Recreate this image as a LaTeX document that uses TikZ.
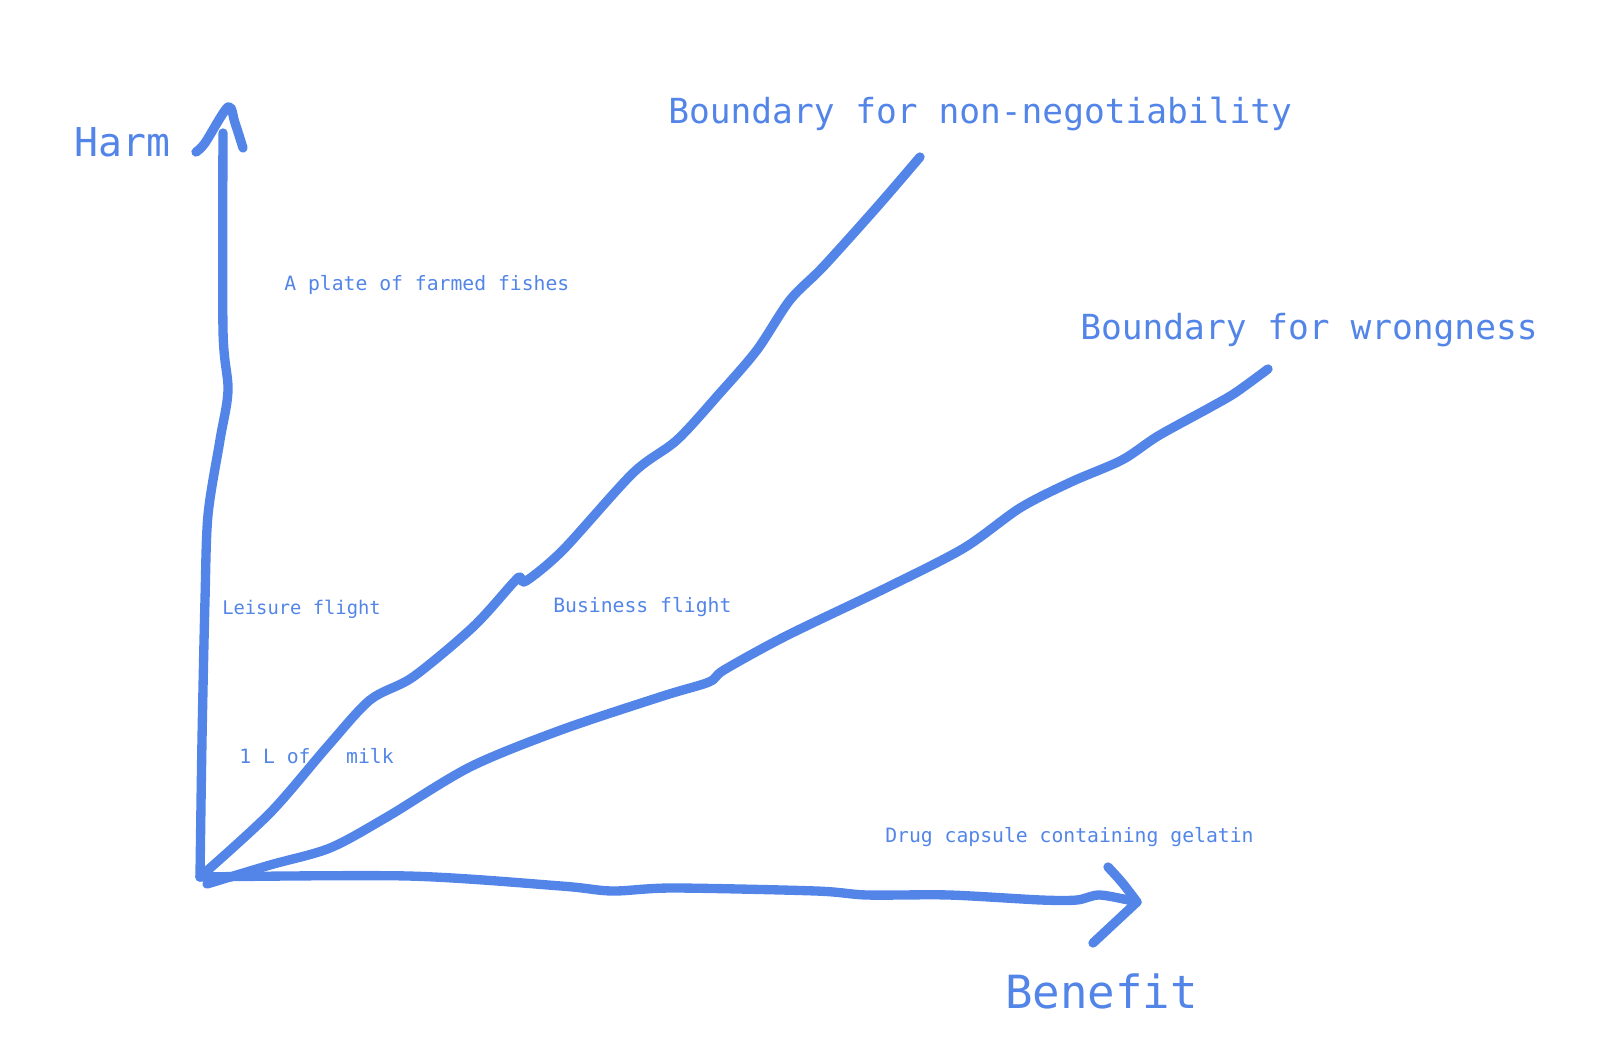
\documentclass[tikz,border=0pt]{standalone}
\usepackage{fontspec}
\setmonofont{DejaVu Sans Mono}
\definecolor{pen}{RGB}{83,133,232}

\begin{document}
\begin{tikzpicture}[x=0.75pt,y=-0.75pt,
  stroke/.style={draw=pen,line width=7pt,line cap=round,line join=round},
  item/.style={text=pen,anchor=base west,inner sep=0pt,font=\ttfamily\fontsize{14.8}{16}\selectfont},
  title/.style={text=pen,anchor=base west,inner sep=0pt,font=\ttfamily\fontsize{25.9}{28}\selectfont}]
\useasboundingbox (0,0) rectangle (1600,1045);

\coordinate (origin) at (200,877);
\coordinate (harmtip) at (228,107);
\coordinate (benefittip) at (1137,902);
\coordinate (nonnegend) at (920,157);
\coordinate (wrongend) at (1268,369);

\node[title,font=\ttfamily\fontsize{29.8}{32}\selectfont] at (74,157) (harm) {Harm};
\node[title,font=\ttfamily\fontsize{34.3}{36}\selectfont] at (1005,1008) (benefit) {Benefit};
\node[title] at (668,124) (nonneg) {Boundary for non-negotiability};
\node[title] at (1080,339) (wrong) {Boundary for wrongness};
\node[item] at (284,290) (fish) {A plate of farmed fishes};
\node[item,font=\ttfamily\fontsize{14.1}{16}\selectfont] at (222,614) (leisure) {Leisure flight};
\node[item] at (553,612) (business) {Business flight};
\node[item] at (239,763) (milk) {1 L of\ \ \ milk};
\node[item] at (885,842) (drug) {Drug capsule containing gelatin};

\draw[stroke] plot[smooth] coordinates {(origin) (202,740) (205,600) (208,515) (220,440) (228,390) (223,330) (223,133)};
\draw[stroke] plot[smooth] coordinates {(196,152) (205,143) (harmtip) (235,123) (243,148)};

\draw[stroke] plot[smooth] coordinates {(origin) (408,876) (561,886) (612,891) (673,888) (816,891) (867,895) (949,895) (1041,900) (1077,900) (1100,895) (benefittip)};
\draw[stroke] (1108,867) .. controls (1122,882) .. (benefittip) -- (1093,943);

\draw[stroke] plot[smooth] coordinates {(origin) (270,813) (327,747) (370,700) (413,677) (473,627) (513,583) (520,577) (526,581) (563,550) (633,473) (677,440) (720,393) (757,350) (790,300) (823,267) (877,207) (nonnegend)};

\draw[stroke] plot[smooth] coordinates {(207,884) (270,865) (330,848) (387,817) (470,767) (561,730) (663,696) (709,682) (724,670) (786,636) (888,587) (964,548) (1020,508) (1071,482) (1122,460) (1158,436) (1209,408) (1235,393) (wrongend)};
\end{tikzpicture}
\end{document}
